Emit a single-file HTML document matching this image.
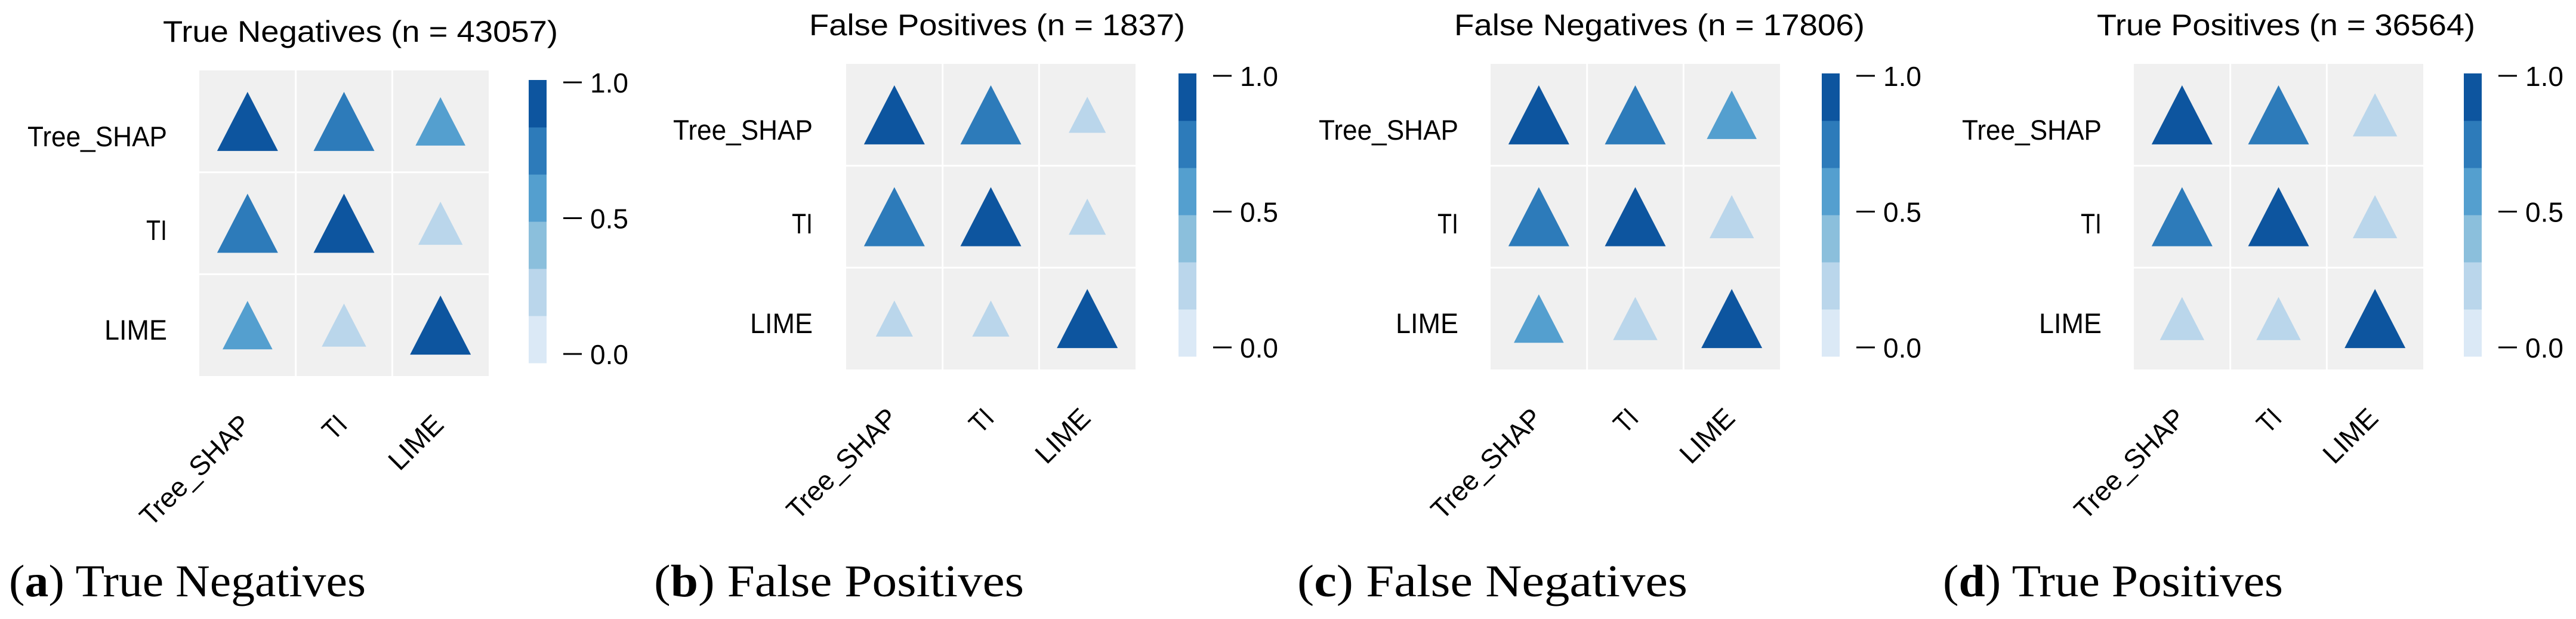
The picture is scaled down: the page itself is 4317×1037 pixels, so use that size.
<!DOCTYPE html>
<html><head><meta charset="utf-8">
<style>
html,body{margin:0;padding:0;background:#fff;}
svg{display:block;}
</style></head>
<body>
<svg id="fig" width="4317" height="1037" viewBox="0 0 4317 1037" xmlns="http://www.w3.org/2000/svg"></svg>
<script>
// ---- data ----
const methods = ["Tree_SHAP", "TI", "LIME"];
const panelTitles = ["True Negatives (n = 43057)", "False Positives (n = 1837)", "False Negatives (n = 17806)", "True Positives (n = 36564)"];
const captionLetters = ["a", "b", "c", "d"];
const captionTexts = ["True Negatives", "False Positives", "False Negatives", "True Positives"];
const valuesTN = [[1.0, 0.75, 0.55], [0.75, 1.0, 0.3], [0.55, 0.3, 1.0]];
const valuesFP = [[1.0, 0.75, 0.2], [0.75, 1.0, 0.2], [0.2, 0.2, 1.0]];
const valuesFN = [[1.0, 0.75, 0.55], [0.75, 1.0, 0.3], [0.55, 0.3, 1.0]];
const valuesTP = [[1.0, 0.75, 0.3], [0.75, 1.0, 0.3], [0.3, 0.3, 1.0]];
const colorbarTicks = [1.0, 0.5, 0.0];
const colorbarTickLabels = ["1.0", "0.5", "0.0"];
const bandColors = ["#dbe9f6", "#bad6eb", "#8bbfdc", "#549fcf", "#2d7bba", "#0d559f"];

// ---- layout ----
const panels = [
  {gx:334, gy:118, tcx:604, cbx:886, ylr:280, capx:15, tw:662, vals:valuesTN},
  {gx:1418, gy:107, tcx:1671, cbx:1975, ylr:1362, capx:1096, tw:630, vals:valuesFP},
  {gx:2498, gy:107, tcx:2781, cbx:3053, ylr:2444, capx:2174, tw:688, vals:valuesFN},
  {gx:3576, gy:107, tcx:3831, cbx:4129, ylr:3522, capx:3256, tw:634, vals:valuesTP}
];
const GW = 485, GH = 512, CBW = 30, CBH = 474;
const TRI_W = 102, TRI_H = 99;
const capWidths = [598, 620, 654, 570];
const ylabWidths = [234, 35, 105];
const ylabOff = [110, 267, 434];

const NS = "http://www.w3.org/2000/svg";
const svg = document.getElementById("fig");
function mk(tag, attrs, parent){
  const e = document.createElementNS(NS, tag);
  for (const k in attrs) e.setAttribute(k, attrs[k]);
  (parent||svg).appendChild(e);
  return e;
}
function colorFor(v){
  const i = Math.min(bandColors.length-1, Math.floor(v*bandColors.length));
  return bandColors[i];
}
// piecewise size scale (value -> relative triangle size)
const sizeDom = [0.2, 0.3, 0.55, 0.75];
const sizeRng = [0.61, 0.73, 0.82, 1.0];
function sizeFor(v){
  if (v <= sizeDom[0]) return sizeRng[0];
  for (let i=1;i<sizeDom.length;i++){
    if (v <= sizeDom[i]){
      const t=(v-sizeDom[i-1])/(sizeDom[i]-sizeDom[i-1]);
      return sizeRng[i-1]+t*(sizeRng[i]-sizeRng[i-1]);
    }
  }
  return sizeRng[sizeRng.length-1];
}

panels.forEach((p, pi) => {
  const g = mk("g", {});
  
  
  const xCenter = j => p.gx + (j+0.5)*GW/3;
  const yCenter = i => p.gy + (i+0.5)*GH/3;
  const cbY = v => p.gy + 16 + 4 + (1 - v) * 455;

  // title
  const t = mk("text", {x:p.tcx, y:p.gy-48, "text-anchor":"middle", "font-family":"Liberation Sans, sans-serif", "font-size":50, fill:"#000", textLength:p.tw, lengthAdjust:"spacingAndGlyphs"}, g);
  t.textContent = panelTitles[pi];
  
  

  // grid background
  const bg = mk("rect", {x:p.gx, y:p.gy, width:GW, height:GH, fill:"#f0f0f0"}, g);
  
  
  for (let k=1;k<3;k++){
    const vl = mk("line", {x1:p.gx+k*GW/3, x2:p.gx+k*GW/3, y1:p.gy, y2:p.gy+GH, stroke:"#fff", "stroke-width":3}, g);
    
    
    const hl = mk("line", {x1:p.gx, x2:p.gx+GW, y1:p.gy+k*GH/3, y2:p.gy+k*GH/3, stroke:"#fff", "stroke-width":3}, g);
    
    
  }

  // triangles
  p.vals.forEach((row, i) => {
    row.forEach((v, j) => {
      const s = sizeFor(v);
      const w = TRI_W*s, h = TRI_H*s;
      const cx = xCenter(j), cy = yCenter(i);
      const tri = mk("polygon", {points:`${cx},${cy-h/2} ${cx+w/2},${cy+h/2} ${cx-w/2},${cy+h/2}`, fill:colorFor(v)}, g);
      
      
    });
  });

  // y labels
  methods.forEach((m, i) => {
    const yl = mk("text", {x:p.ylr, y:p.gy+ylabOff[i]+17, "text-anchor":"end", "font-family":"Liberation Sans, sans-serif", "font-size":47, fill:"#000", textLength:ylabWidths[i], lengthAdjust:"spacingAndGlyphs"}, g);
    yl.textContent = m;
    
    
  });
  // x labels (rotated)
  methods.forEach((m, j) => {
    const px = xCenter(j) + 8, py = p.gy + GH + 84;
    const xl = mk("text", {x:px, y:py, "text-anchor":"end", "font-family":"Liberation Sans, sans-serif", "font-size":46, fill:"#000", transform:`rotate(-45 ${px} ${py})`, textLength:[240,36,108][j], lengthAdjust:"spacingAndGlyphs"}, g);
    xl.textContent = m;
    
    
  });

  // colorbar
  const cbTop = p.gy + 16;
  bandColors.forEach((c, k) => {
    const bh = CBH/bandColors.length;
    const r = mk("rect", {x:p.cbx, y:cbTop + CBH - (k+1)*bh, width:CBW, height:bh+0.5, fill:c}, g);
    
    
  });
  colorbarTicks.forEach((v, k) => {
    const y = cbY(v);
    const tl = mk("line", {x1:p.cbx+58, x2:p.cbx+89, y1:y, y2:y, stroke:"#000", "stroke-width":3}, g);
    
    
    const tt = mk("text", {x:p.cbx+103, y:y+17, "font-family":"Liberation Sans, sans-serif", "font-size":46, fill:"#000"}, g);
    tt.textContent = colorbarTickLabels[k];
    
    
  });

  // caption
  const cap = mk("text", {x:p.capx, y:999, "font-family":"Liberation Serif, serif", "font-size":76, fill:"#000", textLength:capWidths[pi], lengthAdjust:"spacingAndGlyphs"}, g);
  
  
  const s1 = mk("tspan", {}, cap); s1.textContent = "(";
  const s2 = mk("tspan", {"font-weight":"bold"}, cap); s2.textContent = captionLetters[pi];
  const s3 = mk("tspan", {}, cap); s3.textContent = ") " + captionTexts[pi];
});
</script>
</body></html>
